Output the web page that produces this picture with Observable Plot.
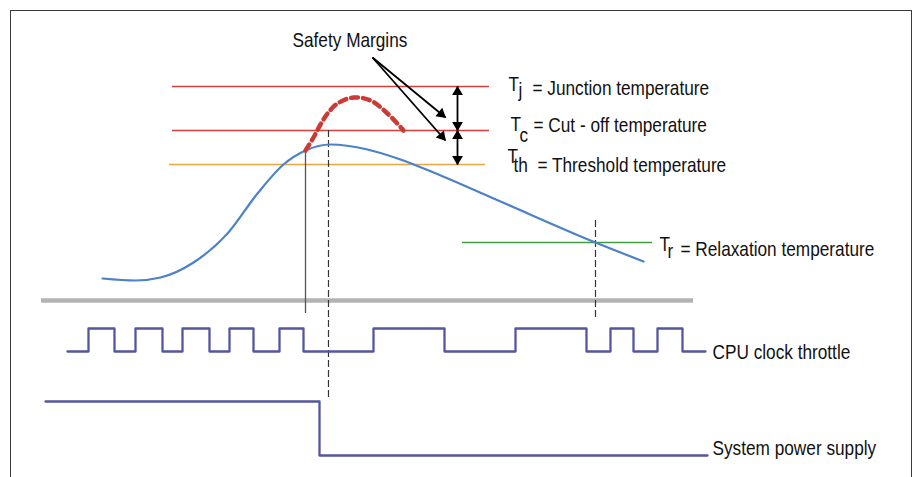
<!DOCTYPE html>
<html><head><meta charset="utf-8">
<script src="https://cdn.jsdelivr.net/npm/d3@7"></script>
<script src="https://cdn.jsdelivr.net/npm/@observablehq/plot@0.6"></script>
<style>
html,body{margin:0;padding:0;background:#fff;overflow:hidden}
#wrap{position:relative;width:913px;height:477px}
#border{position:absolute;left:10px;top:10px;width:902px;height:600px;border:1.5px solid #3a3a3a;box-sizing:border-box;z-index:2;pointer-events:none}
#chart{position:absolute;left:0;top:0}
</style></head><body><div id="wrap"><div id="border"></div><div id="chart"></div></div>
<script>
// ---- data (time t, signal level) ----
const tempT     = [102,135,160,193,227,257,283,305,330,367,400,433,500,595,643];
const tempLevel = [199,197,200,215,244,284,313,327,333,328,318,305,276,235,216];

const overshootT     = [305,313,320,327,337,353,370,387,403];
const overshootLevel = [327,340,353,364,374,380,377,364,347];

const thresholdNames = ["Tj","Tc","Tth","Tr"];
const thresholdLevel = [391,347,313,235];
const thresholdStart = [172,172,169,462];
const thresholdEnd   = [489,489,485,652];

const separatorLevel = 177;
const separatorSpan  = [41,693];

const markerSolid  = [{t:305, from:327, to:164}];
const markerDashed = [{t:328, from:347, to:77},{t:595, from:257, to:160}];

const throttleEdges = [67,88,114,135,162,182,209,229,253,279,303,373,444,515,586,610,633,657,682,705];
const throttleLow = 126, throttleHigh = 149;

const powerT     = [45,319,707];
const powerLevel = [76,22,22];

const marginArrows = [
  {t1:372,l1:420,t2:445,l2:360},
  {t1:372,l1:420,t2:445,l2:337}
];
const gapArrows = [
  {t:457, top:391, bottom:347},
  {t:457, top:347, bottom:313}
];

const labelT     = [292, 532, 533, 537, 680, 712, 712];
const labelLevel = [431, 383, 346, 306, 222, 119, 23];
const labelText  = ["Safety Margins","= Junction temperature","= Cut - off temperature","= Threshold temperature","= Relaxation temperature","CPU clock throttle","System power supply"];

const symT     = [508, 510, 507, 659];
const symLevel = [387, 347, 315, 227];
const subT     = [518, 519, 513, 667];
const subLevel = [381, 336, 306, 220];
const subText  = ["j","c","th","r"];

// ---- build ----
const W = 913, H = 477;
const tempCurve = tempT.map((t,i)=>({t, level: tempLevel[i]}));
const overshoot = overshootT.map((t,i)=>({t, level: overshootLevel[i]}));
const thresholds = thresholdNames.map((name,i)=>({name, level: thresholdLevel[i], start: thresholdStart[i], end: thresholdEnd[i]}));
const thresholdColor = {Tj:"#d23f3f", Tc:"#d23f3f", Tth:"#eaa545", Tr:"#3f9f3f"};
const throttle = throttleEdges.map((t,i)=>({t, level: (i%2===1 && i<throttleEdges.length-1) ? throttleHigh : throttleLow}));
const power = powerT.map((t,i)=>({t, level: powerLevel[i]}));
const labels = labelT.map((t,i)=>({t, level: labelLevel[i], text: labelText[i]}));
const syms = symT.map((t,i)=>({t, level: symLevel[i], text:"T"}));
const subs = subT.map((t,i)=>({t, level: subLevel[i], text: subText[i]}));

const kx = W/913, ky = H/477;
function head(x0,y0,x1,y1){
  const dx=(x1-x0)*kx, dy=-(y1-y0)*ky, len=Math.hypot(dx,dy);
  const ux=dx/len, uy=dy/len, back=5.5;
  return {t: x1 - ux*back/kx, level: y1 + uy*back/ky, angle: Math.atan2(dx,-dy)*180/Math.PI};
}
const links = [
  ...marginArrows.map(a=>({x1:a.t1,y1:a.l1,x2:a.t2,y2:a.l2})),
  ...gapArrows.map(a=>({x1:a.t,y1:a.top,x2:a.t,y2:a.bottom}))
];
const heads = [
  ...marginArrows.map(a=>head(a.t1,a.l1,a.t2,a.l2)),
  ...gapArrows.map(a=>head(a.t,a.bottom,a.t,a.top)),
  ...gapArrows.map(a=>head(a.t,a.top,a.t,a.bottom))
];

const font = "'Liberation Sans',Arial,sans-serif";
const txt = {x:"t", y:"level", text:"text", textAnchor:"start", lineAnchor:"bottom", fontSize:21, fontFamily:font, fill:"#111", className:"lbl"};

const chart = Plot.plot({
  width: W, height: H, margin: 0,
  x: {domain:[0,913], axis:null},
  y: {domain:[0,477], axis:null},
  style: {background:"transparent", overflow:"visible"},
  marks: [
    Plot.ruleY(thresholds, {y:"level", x1:"start", x2:"end", stroke: d=>thresholdColor[d.name], strokeWidth:1.6}),
    Plot.ruleY([separatorLevel], {y: d=>d, x1: separatorSpan[0], x2: separatorSpan[1], stroke:"#b3b3b3", strokeWidth:4.5}),
    Plot.ruleX(markerSolid, {x:"t", y1:"from", y2:"to", stroke:"#555", strokeWidth:1.3}),
    Plot.ruleX(markerDashed, {x:"t", y1:"from", y2:"to", stroke:"#333", strokeWidth:1.2, strokeDasharray:"7,3"}),
    Plot.line(tempCurve, {x:"t", y:"level", curve:"monotone-x", stroke:"#4c82c9", strokeWidth:2.2}),
    Plot.line(overshoot, {x:"t", y:"level", curve:"catmull-rom", stroke:"#cc3a34", strokeWidth:4.5, strokeDasharray:"7,5"}),
    Plot.line(throttle, {x:"t", y:"level", curve:"step-after", stroke:"#5556a0", strokeWidth:2.3}),
    Plot.line(power, {x:"t", y:"level", curve:"step-after", stroke:"#5556a0", strokeWidth:2.3}),
    Plot.link(links, {x1:"x1", y1:"y1", x2:"x2", y2:"y2", stroke:"#000", strokeWidth:1.8}),
    Plot.dot(heads, {x:"t", y:"level", symbol:"triangle", r:4, fill:"#000", stroke:"none", rotate:"angle"}),
    Plot.text(labels, txt),
    Plot.text(syms, txt),
    Plot.text(subs, txt)
  ]
});
document.getElementById("chart").append(chart);
// condense the label glyphs horizontally (reference uses a narrow sans face)
chart.querySelectorAll("g.lbl text, .lbl text").forEach(el => {
  const len = el.getComputedTextLength();
  el.setAttribute("textLength", (len * 0.82).toFixed(1));
  el.setAttribute("lengthAdjust", "spacingAndGlyphs");
});
</script>
</body></html>
